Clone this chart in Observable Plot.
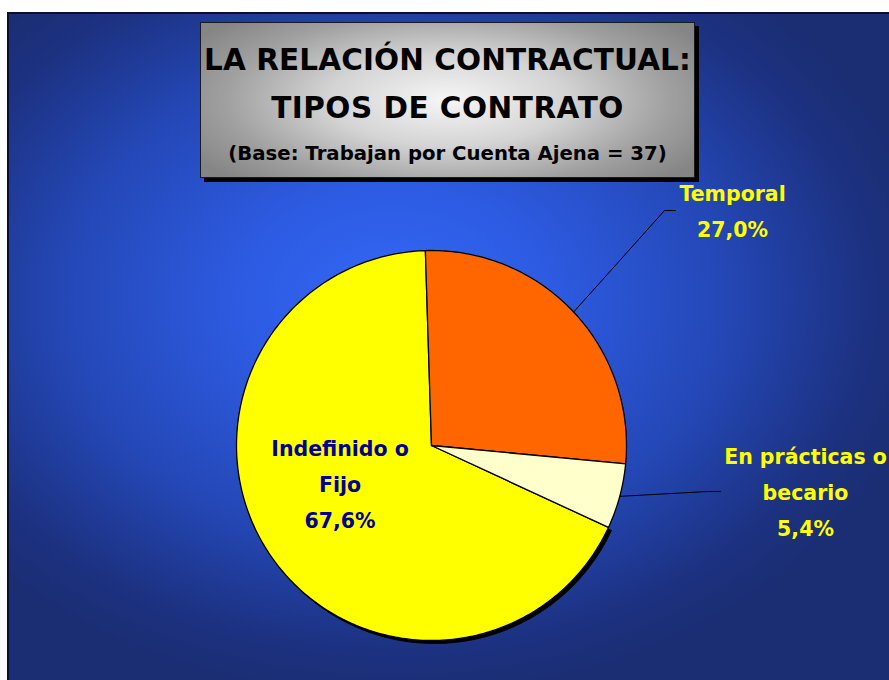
<!DOCTYPE html>
<html>
<head>
<meta charset="utf-8">
<script src="https://cdn.jsdelivr.net/npm/d3@7"></script>
<script src="https://cdn.jsdelivr.net/npm/@observablehq/plot@0.6"></script>
<style>
  html, body { margin: 0; padding: 0; background: #fff; }
  #wrap { position: relative; width: 889px; height: 680px; overflow: hidden; background: #fff; }
  #frame {
    position: absolute; left: 7px; top: 12px; width: 900px; height: 700px;
    border-left: 2px solid #0b1030; border-top: 2px solid #0b1030;
    background-color: #1b2f75;
    background-image: radial-gradient(ellipse 540px 400px at 385px 285px, #3468f6 0%, #2d5be2 28%, #2447b5 62%, #1c3180 88%, #1b2e74 100%);
  }
  #chart { position: absolute; left: 0; top: 0; }
  #title {
    position: absolute; left: 200px; top: 22px; width: 493px; height: 154px;
    border: 1.5px solid #1a1a1a;
    box-shadow: 4px 4px 0 #000;
    background: radial-gradient(ellipse 60% 75% at 50% 50%, #f6f6f6 0%, #d4d4d4 40%, #a0a0a0 75%, #858585 100%);
    font-family: "DejaVu Sans", sans-serif; font-weight: bold; color: #000;
    text-align: center; white-space: nowrap;
  }
  #title .l1 { position: absolute; left: -20px; right: -20px; top: 20px; font-size: 29.5px; letter-spacing: 0.1px; }
  #title .l2 { position: absolute; left: -20px; right: -20px; top: 68px; font-size: 29.5px; letter-spacing: 0.5px; }
  #title .l3 { position: absolute; left: -20px; right: -20px; top: 119px; font-size: 19.7px; }
</style>
</head>
<body>
<div id="wrap">
  <div id="frame"></div>
  <div id="chart"></div>
  <div id="title">
    <div class="l1">LA RELACIÓN CONTRACTUAL:</div>
    <div class="l2">TIPOS DE CONTRATO</div>
    <div class="l3">(Base: Trabajan por Cuenta Ajena = 37)</div>
  </div>
</div>
<script>
// ---- data ----
const categories = ["Temporal", "En prácticas o becario", "Indefinido o Fijo"];
const values = [27.0, 5.4, 67.6];
const valueLabels = ["27,0%", "5,4%", "67,6%"];
const nameLines = [["Temporal"], ["En prácticas o", "becario"], ["Indefinido o", "Fijo"]];

// ---- style ----
const sliceColors = ["#FF6600", "#FFFFCC", "#FFFF00"];
const labelColors = ["#FFFF00", "#FFFF00", "#000090"];
const startDeg = -1.8;
const cx = 431, cy = 445, R = 195;
// label anchors (pie unit coordinates) and leader elbows
const labelAnchors = [[1.544, 1.285], [1.918, -0.059], [-0.469, -0.018]];
const leaderElbows = [[[1.195, 1.205], [1.251, 1.205]], [[1.415, -0.236], [1.482, -0.236]], null];
const lineGap = 36;
const font = "DejaVu Sans, sans-serif";

// ---- geometry from data ----
const arcs = d3.pie().sort(null).startAngle(startDeg * Math.PI / 180)(values);
function slicePoints(a, i) {
  const pts = [{i, x: 0, y: 0}];
  const n = Math.max(4, Math.ceil((a.endAngle - a.startAngle) / (Math.PI / 180)));
  for (let k = 0; k <= n; k++) {
    const t = a.startAngle + (a.endAngle - a.startAngle) * k / n;
    pts.push({i, x: Math.sin(t), y: Math.cos(t)});
  }
  pts.push({i, x: 0, y: 0});
  return pts;
}
const slices = arcs.map((a, i) => slicePoints(a, i));

const textRows = [];
categories.forEach((c, i) => {
  const lines = [...nameLines[i], valueLabels[i]];
  lines.forEach((t, j) => textRows.push({i, j, t, x: labelAnchors[i][0], y: labelAnchors[i][1]}));
});

const leaders = [];
arcs.forEach((a, i) => {
  if (!leaderElbows[i]) return;
  const m = (a.startAngle + a.endAngle) / 2;
  leaders.push({i, x: Math.sin(m), y: Math.cos(m)});
  leaderElbows[i].forEach(p => leaders.push({i, x: p[0], y: p[1]}));
});

const marks = [];
// shadow under the large slice
marks.push(Plot.line(slices[2], {x: "x", y: "y", fill: "#000", stroke: "#000", strokeWidth: 1, dx: 3, dy: 3}));
[2, 0, 1].forEach(i => {
  marks.push(Plot.line(slices[i], {x: "x", y: "y", fill: sliceColors[i], stroke: "#000", strokeWidth: 1.3, strokeLinejoin: "round"}));
});
marks.push(Plot.line(leaders, {x: "x", y: "y", z: "i", stroke: "#000", strokeWidth: 1}));
categories.forEach((c, i) => {
  const rows = textRows.filter(r => r.i === i);
  rows.forEach(r => {
    marks.push(Plot.text([r], {x: "x", y: "y", text: "t", dy: r.j * lineGap, fill: labelColors[i],
      fontSize: 20.5, fontWeight: "bold", fontFamily: font, textAnchor: "middle"}));
  });
});

const chart = Plot.plot({
  width: 889, height: 680, margin: 0,
  x: {domain: [-1, 1], range: [cx - R, cx + R], axis: null},
  y: {domain: [-1, 1], range: [cy + R, cy - R], axis: null},
  style: {background: "transparent", overflow: "visible"},
  marks
});
document.getElementById("chart").appendChild(chart);
</script>
</body>
</html>
